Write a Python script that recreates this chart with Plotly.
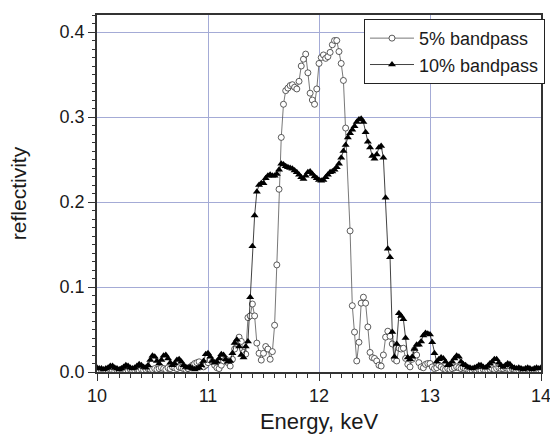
import plotly.graph_objects as go

# Energy grid (keV), 0.02 keV sampling from 10 to 14
energy = [round(10 + 0.02 * i, 2) for i in range(201)]

# 5% bandpass reflectivity (None = no sample drawn at that energy)
bp5 = [
    0.002, 0.001, 0.002, 0.002, 0.001, 0.002, 0.003, 0.002, 0.001, 0.002,
    0.002, 0.003, 0.002, 0.001, 0.002, 0.003, 0.002, 0.002, 0.003, 0.002,
    0.003, 0.002, 0.003, 0.004, 0.003, 0.003, 0.004, 0.003, 0.004, 0.005,
    0.004, 0.003, 0.005, 0.004, 0.006, 0.005, 0.004, 0.006, 0.005, 0.004,
    0.003, 0.004, 0.006, 0.008, 0.010, 0.011, 0.012, 0.008, 0.006, 0.008,
    0.011, 0.014, 0.012, 0.008, 0.005, 0.004, 0.008, 0.013, 0.015, 0.011,
    0.007, 0.015, 0.027, 0.036, 0.041, 0.036, 0.023, 0.021, 0.064, 0.066,
    0.080, 0.066, 0.034, 0.022, 0.014, 0.022, 0.030, 0.027, 0.015, 0.024,
    0.055, 0.126, 0.215, 0.276, 0.315, 0.331, 0.334, 0.337, 0.338, 0.335,
    0.333, 0.342, 0.360, 0.368, 0.374, 0.352, 0.328, 0.320, 0.315, 0.333,
    0.363, 0.370, 0.373, 0.369, 0.371, 0.376, 0.385, 0.390, 0.390, 0.377,
    0.363, 0.343, 0.287, None, 0.166, 0.078, 0.047, 0.013, 0.035, 0.081,
    0.088, 0.081, 0.053, 0.023, 0.017, 0.016, 0.013, 0.008, 0.007, 0.020,
    0.041, 0.048, 0.042, 0.033, 0.015, 0.013, 0.028, 0.027, 0.028, 0.016,
    0.009, 0.006, 0.015, 0.026, 0.020, 0.011, 0.006, 0.005, 0.009, 0.010,
    0.010, 0.006, 0.004, 0.005, 0.008, 0.006, 0.004, 0.003, 0.004, 0.003,
    0.004, 0.005, 0.006, 0.005, 0.004, 0.005, 0.004, 0.003, 0.002, 0.002,
    0.003, 0.002, 0.003, 0.002, 0.003, 0.002, 0.002, 0.003, 0.004, 0.003,
    0.004, 0.005, 0.004, 0.004, 0.005, 0.004, 0.003, 0.004, 0.003, 0.002,
    0.002, 0.003, 0.002, 0.002, 0.003, 0.002, 0.002, 0.001, 0.002, 0.002,
    0.002,
]

# 10% bandpass reflectivity
bp10 = [
    0.005, 0.004, 0.004, 0.003, 0.004, 0.005, 0.007, 0.007, 0.005, 0.004,
    0.003, 0.004, 0.006, 0.008, 0.007, 0.005, 0.004, 0.005, 0.007, 0.009,
    0.008, 0.006, 0.005, 0.008, 0.014, 0.019, 0.018, 0.013, 0.010, 0.014,
    0.019, 0.020, 0.016, 0.011, 0.008, 0.010, 0.014, 0.015, 0.012, 0.008,
    0.006, 0.005, 0.006, 0.004, 0.003, 0.004, 0.005, 0.008, 0.013, 0.021,
    0.022, 0.018, 0.013, 0.011, 0.012, 0.016, 0.021, 0.020, 0.015, 0.012,
    0.013, 0.022, 0.034, 0.038, 0.030, 0.020, 0.017, 0.030, 0.036, 0.088,
    0.148, 0.184, 0.212, 0.220, 0.222, 0.222, 0.228, 0.231, 0.232, 0.231,
    0.231, 0.233, 0.238, 0.245, 0.244, 0.242, 0.241, 0.240, 0.239, 0.237,
    0.235, 0.232, 0.229, 0.227, 0.231, 0.235, 0.236, 0.233, 0.230, 0.228,
    0.226, 0.225, 0.226, 0.229, 0.232, 0.235, 0.236, 0.238, 0.241, 0.245,
    0.252, 0.260, 0.267, 0.276, 0.281, 0.285, 0.289, 0.294, 0.297, 0.298,
    0.294, 0.282, 0.271, 0.264, 0.254, 0.251, 0.256, 0.264, 0.266, 0.252,
    0.205, 0.145, 0.135, 0.047, 0.018, 0.033, 0.069, 0.066, 0.062, 0.040,
    0.017, 0.015, 0.018, 0.027, 0.032, 0.032, 0.036, 0.043, 0.046, 0.045,
    0.044, 0.035, 0.022, 0.012, 0.015, 0.017, 0.016, 0.012, 0.008, 0.009,
    0.012, 0.016, 0.019, 0.018, 0.012, 0.009, 0.008, 0.006, 0.005, 0.004,
    0.005, 0.006, 0.008, 0.008, 0.006, 0.005, 0.007, 0.010, 0.012, 0.015,
    0.015, 0.011, 0.008, 0.006, 0.008, 0.010, 0.009, 0.006, 0.005, 0.004,
    0.005, 0.004, 0.003, 0.004, 0.005, 0.004, 0.003, 0.004, 0.005, 0.004,
    0.005,
]

x_ticks = [10, 11, 12, 13, 14]
y_ticks = [0.0, 0.1, 0.2, 0.3, 0.4]
y_tick_labels = ["0.0", "0.1", "0.2", "0.3", "0.4"]

FONT = "Liberation Sans, Arial, sans-serif"
GRID = "#a4abd6"
AXIS = "#333333"

fig = go.Figure()
fig.add_trace(go.Scatter(
    x=energy, y=bp5, name="5% bandpass", mode="lines+markers",
    connectgaps=True,
    line=dict(color="#555555", width=0.8),
    marker=dict(symbol="circle", size=6, color="white",
                line=dict(color="#333333", width=0.8)),
))
fig.add_trace(go.Scatter(
    x=energy, y=bp10, name="10% bandpass", mode="lines+markers",
    line=dict(color="#111111", width=0.8),
    marker=dict(symbol="triangle-up", size=7, color="black",
                line=dict(width=0)),
))

fig.update_layout(
    width=550, height=435,
    margin=dict(l=97, r=9, t=15, b=63, autoexpand=False),
    paper_bgcolor="white", plot_bgcolor="white",
    font=dict(family=FONT, size=18, color="#1a1a1a"),
    showlegend=True,
    legend=dict(
        x=1.009, y=0.989, xanchor="right", yanchor="top",
        bgcolor="white", bordercolor="#222222", borderwidth=1,
        font=dict(family=FONT, size=18, color="#1a1a1a"),
        itemwidth=44, tracegroupgap=0,
    ),
)
fig.update_xaxes(
    range=[10, 14], tickvals=x_ticks, ticktext=[str(v) for v in x_ticks],
    showgrid=True, gridcolor=GRID, gridwidth=1,
    showline=True, linecolor=AXIS, linewidth=1.5, mirror=True,
    ticks="outside", ticklen=7, tickwidth=1, tickcolor=AXIS,
    minor=dict(dtick=0.1, ticks="outside", ticklen=4, tickcolor=AXIS, showgrid=False),
    zeroline=False, automargin=False, ticklabeloverflow="allow",
    title=dict(text="Energy, keV", font=dict(size=22), standoff=8),
    tickfont=dict(size=18),
)
fig.update_yaxes(
    range=[0, 0.42], tickvals=y_ticks, ticktext=y_tick_labels,
    showgrid=True, gridcolor=GRID, gridwidth=1,
    showline=True, linecolor=AXIS, linewidth=1.5, mirror=True,
    ticks="outside", ticklen=7, tickwidth=1, tickcolor=AXIS,
    minor=dict(dtick=0.01, ticks="outside", ticklen=3, tickcolor=AXIS, showgrid=False),
    zeroline=False, automargin=False, ticklabeloverflow="allow",
    title=dict(text="reflectivity", font=dict(size=21), standoff=27),
    tickfont=dict(size=18),
)

fig.write_html(
    "out.html",
    config={"displayModeBar": False},
    post_script="document.body.style.margin='0';document.body.style.padding='0';",
)
